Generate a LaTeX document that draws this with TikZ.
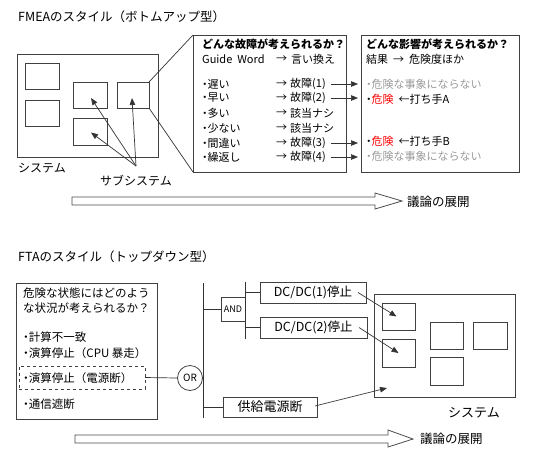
\documentclass[tikz,border=0pt]{standalone}
\usepackage{fontspec}
\setmainfont{Noto Sans CJK JP}
\usetikzlibrary{arrows.meta,calc}
\begin{document}
\begin{tikzpicture}[x=1pt,y=-1pt,
  box/.style={draw=black!75, line width=0.8pt, anchor=north west, inner sep=0pt, outer sep=0pt},
  ln/.style={draw=black!80, line width=0.7pt},
  arr/.style={ln, -{Triangle[length=7pt,width=5.5pt]}},
  hollow/.style={draw=black!70, line width=0.8pt, fill=white},
  t/.style={anchor=west, inner sep=0pt, font=\fontsize{11}{13}\selectfont},
  tb/.style={t, font=\fontsize{11}{13}\selectfont\bfseries},
  tl/.style={anchor=west, inner sep=0pt, font=\fontsize{11.5}{13}\selectfont},
  big/.style={anchor=west, inner sep=0pt, font=\fontsize{12.5}{14}\selectfont},
  gr/.style={text=black!40},
]
\useasboundingbox (0,0) rectangle (540,456);

% ---------------- FMEA ----------------
\node[anchor=west, inner sep=0pt, font=\fontsize{12.5}{14}\selectfont] (title1) at (18,17) {FMEAのスタイル（ボトムアップ型）};

\node[box, minimum width=141pt, minimum height=103pt] (sys1) at (17,54) {};
\node[box, minimum width=34pt, minimum height=26pt] (a1) at (25,63) {};
\node[box, minimum width=34pt, minimum height=26pt] (a2) at (25,100) {};
\node[box, minimum width=34pt, minimum height=26pt] (a3) at (73,82) {};
\node[box, minimum width=34pt, minimum height=27pt] (a4) at (73,118) {};
\node[box, minimum width=32pt, minimum height=26pt] (a5) at (117,82) {};

\node[anchor=west, inner sep=0pt, font=\fontsize{12}{14}\selectfont] (syslab1) at (18,168) {システム};
\node[anchor=west, inner sep=0pt, font=\fontsize{12}{14}\selectfont] (sublab) at (100,181) {サブシステム};
\coordinate (conv) at (136,166);
\draw[arr] (conv) -- ($(a3.center)+(1,3)$);
\draw[arr] (conv) -- ($(a4.center)+(1,1)$);
\draw[arr] (conv) -- ($(a5.center)+(-1,3)$);

% detail box 1
\node[box, minimum width=153pt, minimum height=137pt] (d1) at (193,35) {};
\draw[ln] (a5.north east) -- (d1.north west);
\draw[ln] (a5.south east) -- (d1.south west);

\node[tb] (h1) at (202,44) {どんな故障が考えられるか？};
\node[t] (gw) at (202,59) {Guide\ \ Word};
\node[t] (gwa) at (276,59) {→};
\node[t] (gwb) at (291,59) {言い換え};

\foreach \n/\y/\w/\r in {1/84/遅い/故障(1), 2/98/早い/故障(2), 3/113/多い/該当ナシ, 4/128/少ない/該当ナシ, 5/143/間違い/故障(3), 6/157/繰返し/故障(4)}{
  \node[t] (w\n) at (202,\y) {\textbf{･}\w};
  \node[t] (wa\n) at (276,\y) {→};
  \node[t] (wr\n) at (290,\y) {\r};
}

% detail box 2
\node[box, minimum width=158pt, minimum height=137pt] (d2) at (361,35) {};
\node[tb] (h2) at (366,44) {どんな影響が考えられるか？};
\node[t] (rs) at (366,59) {結果\ \ →\ \ 危険度ほか};
\node[t, gr] (r1) at (366,84) {\textbf{･}危険な事象にならない};
\node[t] (r2) at (366,99) {\textbf{･}\textcolor{red}{危険}\ \ ←打ち手A};
\node[t] (r5) at (366,141) {\textbf{･}\textcolor{red}{危険}\ \ ←打ち手B};
\node[t, gr] (r6) at (366,156) {\textbf{･}危険な事象にならない};

\foreach \n in {1,2,5,6}{
  \draw[arr] ($(wr\n.east)+(5,0)$) -- ($(wr\n.east -| d2.west)+(-3,0)$);
}

% development arrow 1
\draw[hollow] (72,197) -- (375,197) -- (375,193) -- (402,201) -- (375,209) -- (375,205) -- (72,205) -- cycle;
\node[big] (dev1) at (407,202) {議論の展開};

% ---------------- FTA ----------------
\node[anchor=west, inner sep=0pt, font=\fontsize{12.5}{14}\selectfont] (title2) at (18,257) {FTAのスタイル（トップダウン型）};

\node[box, minimum width=141pt, minimum height=136pt] (L) at (16,283) {};
\node[tl] (l1) at (23,293) {危険な状態にはどのよう};
\node[tl] (l2) at (23,308) {な状況が考えられるか？};
\node[tl] (l3) at (23,337) {\textbf{･}計算不一致};
\node[tl] (l4) at (23,353) {\textbf{･}演算停止（CPU 暴走）};
\node[box, dashed, minimum width=126pt, minimum height=23pt] (D) at (19,366) {};
\node[tl] (l5) at (23,378) {\textbf{･}演算停止（電源断）};
\node[tl] (l6) at (23,404) {\textbf{･}通信遮断};

\node[draw=black!75, line width=0.8pt, circle, minimum size=25pt, inner sep=0pt, font=\fontsize{10}{12}\selectfont] (or) at (190,378) {OR};
\draw[ln] (D.east) -- (or.west);

\coordinate (bt) at (203,283);
\coordinate (bb) at (203,418);
\draw[ln] (bt) -- (bb);
\draw[ln] (or.east) -- (or.east -| bt);

\node[box, minimum width=24pt, minimum height=24pt, font=\fontsize{9}{10}\selectfont] (and) at (221,297) {AND};
\draw[ln] (and.west -| bt) -- (and.west);
\coordinate (b2t) at (245,282);
\coordinate (b2b) at (245,339);
\draw[ln] (b2t) -- (b2b);

\node[box, minimum width=106pt, minimum height=21pt, font=\fontsize{12.5}{15}\selectfont] (dc1) at (260,282) {DC/DC(1)停止};
\node[box, minimum width=107pt, minimum height=21pt, font=\fontsize{12.5}{15}\selectfont] (dc2) at (260,317) {DC/DC(2)停止};
\draw[ln] (dc1.west -| b2t) -- (dc1.west);
\draw[ln] (dc2.west -| b2t) -- (dc2.west);

\node[box, minimum width=94pt, minimum height=20pt, font=\fontsize{13}{15}\selectfont] (ps) at (223,397) {供給電源断};
\draw[ln] (ps.west -| bt) -- (ps.west);

\node[box, minimum width=141pt, minimum height=103pt] (sys2) at (374,294) {};
\node[box, minimum width=33pt, minimum height=27pt] (b1) at (382,303) {};
\node[box, minimum width=33pt, minimum height=28pt] (b2) at (382,339) {};
\node[box, minimum width=33pt, minimum height=27pt] (b3) at (430,322) {};
\node[box, minimum width=34pt, minimum height=27pt] (b4) at (473,322) {};
\node[box, minimum width=33pt, minimum height=28pt] (b5) at (430,357) {};
\node[anchor=west, inner sep=0pt, font=\fontsize{13}{15}\selectfont] (syslab2) at (448,413) {システム};

\draw[arr] ($(dc1.east)+(-8,0)$) -- ($(b1.center)+(-2,0)$);
\draw[arr] ($(dc2.east)+(-8,0)$) -- ($(b2.center)+(0,0)$);
\draw[arr] ($(ps.east)+(-2,-1)$) -- ($(sys2.south west)+(13,-9)$);

% development arrow 2
\draw[hollow] (75,435) -- (388,435) -- (388,430) -- (413,439) -- (388,447) -- (388,443) -- (75,443) -- cycle;
\node[big] (dev2) at (420,439) {議論の展開};
\end{tikzpicture}
\end{document}
